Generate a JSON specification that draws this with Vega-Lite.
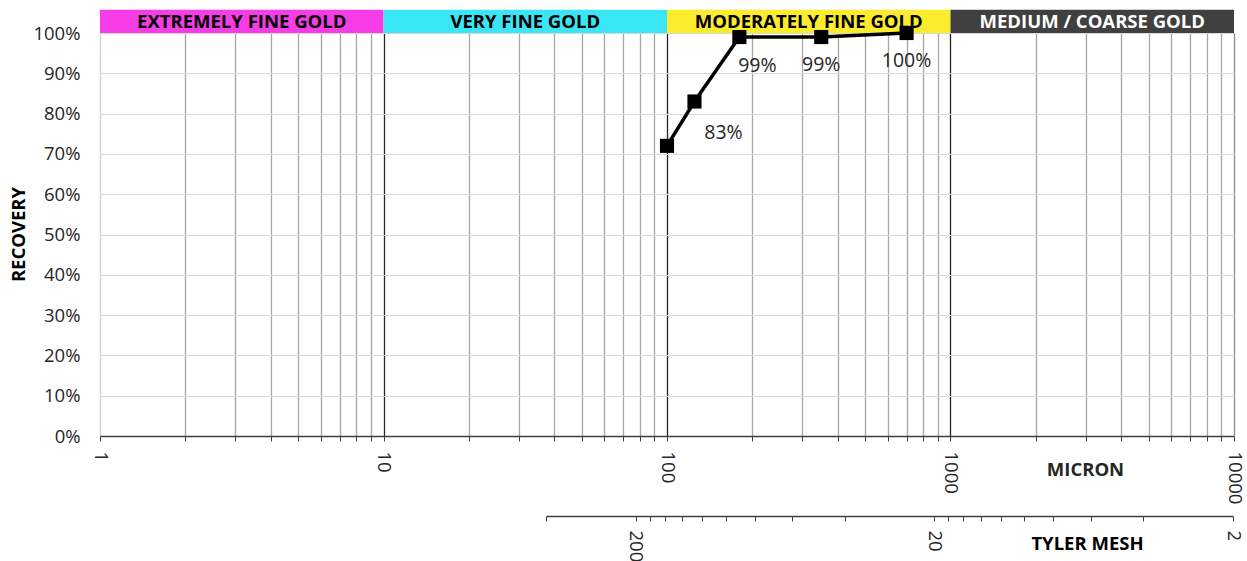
{
  "$schema": "https://vega.github.io/schema/vega-lite/v6.json",
  "width": 1134,
  "height": 403,
  "autosize": {"type": "none"},
  "padding": {"left": 100, "top": 33, "right": 13, "bottom": 125},
  "background": "white",
  "config": {
    "view": {"stroke": null},
    "font": "Open Sans",
    "axis": {"labelFont": "Open Sans", "titleFont": "Open Sans"},
    "text": {"font": "Open Sans"}
  },
  "datasets": {
    "bands": [
      {"cls": "EXTREMELY FINE GOLD", "start": 1, "end": 10},
      {"cls": "VERY FINE GOLD", "start": 10, "end": 100},
      {"cls": "MODERATELY FINE GOLD", "start": 100, "end": 1000},
      {"cls": "MEDIUM / COARSE GOLD", "start": 1000, "end": 10000}
    ],
    "recovery": [
      {"micron": 100, "recovery": 0.72},
      {"micron": 125, "recovery": 0.83},
      {"micron": 180, "recovery": 0.99},
      {"micron": 350, "recovery": 0.99},
      {"micron": 700, "recovery": 1.0}
    ],
    "mesh": [{"mesh": 400}, {"mesh": 2}]
  },
  "layer": [
    {
      "layer": [
        {
          "data": {"name": "bands"},
          "mark": {"type": "rect"},
          "encoding": {
            "x": {"field": "start", "type": "quantitative", "scale": {"type": "log", "domain": [1, 10000], "nice": false}},
            "x2": {"field": "end"},
            "y": {"datum": 1.0, "type": "quantitative"},
            "y2": {"datum": 1.058},
            "color": {
              "field": "cls", "type": "nominal",
              "scale": {
                "domain": ["EXTREMELY FINE GOLD", "VERY FINE GOLD", "MODERATELY FINE GOLD", "MEDIUM / COARSE GOLD"],
                "range": ["#f53ce6", "#3ae5f5", "#fdeb2e", "#404040"]
              },
              "legend": null
            }
          }
        },
        {
          "data": {"name": "bands"},
          "transform": [{"calculate": "sqrt(datum.start * datum.end)", "as": "mid"}],
          "mark": {"type": "text", "fontWeight": "bold", "fontSize": 18.5, "baseline": "middle", "align": "center", "dy": 1},
          "encoding": {
            "x": {"field": "mid", "type": "quantitative", "scale": {"type": "log"}},
            "y": {"datum": 1.029, "type": "quantitative"},
            "text": {"field": "cls"},
            "color": {"condition": {"test": "datum.cls === 'MEDIUM / COARSE GOLD'", "value": "#ffffff"}, "value": "#000000"}
          }
        },
        {
          "data": {"name": "recovery"},
          "mark": {"type": "line", "color": "#000000", "strokeWidth": 3.5},
          "encoding": {
            "x": {
              "field": "micron", "type": "quantitative",
              "scale": {"type": "log", "domain": [1, 10000], "nice": false},
              "axis": {
                "values": [1, 2, 3, 4, 5, 6, 7, 8, 9, 10, 20, 30, 40, 50, 60, 70, 80, 90, 100, 200, 300, 400, 500, 600, 700, 800, 900, 1000, 2000, 3000, 4000, 5000, 6000, 7000, 8000, 9000, 10000],
                "format": "d",
                "labelExpr": "indexof([1,10,100,1000,10000], datum.value) >= 0 ? datum.label : ''",
                "labelOverlap": false,
                "labelAngle": 90,
                "labelAlign": "left",
                "labelBaseline": "middle",
                "labelFontSize": 18.5,
                "labelColor": "#262626",
                "labelPadding": 10,
                "tickSize": 5,
                "tickColor": "#404040",
                "domainColor": "#404040",
                "domainWidth": 1.5,
                "grid": true,
                "gridColor": {"condition": [
                  {"test": "datum.value === 1", "value": "#d0d0d0"},
                  {"test": "datum.value === 10000", "value": "#8c8c8c"},
                  {"test": "indexof([10,100,1000], datum.value) >= 0", "value": "#262626"}
                ], "value": "#a6a6a6"},
                "gridWidth": 1.3,
                "title": "MICRON",
                "titleFontWeight": "bold",
                "titleFontSize": 18.5,
                "titleColor": "#262626",
                "titleX": 985,
                "titleY": 33,
                "titleAlign": "center",
                "titleBaseline": "middle"
              }
            },
            "y": {
              "field": "recovery", "type": "quantitative",
              "scale": {"domain": [0, 1], "nice": false, "zero": true},
              "axis": {
                "values": [0, 0.1, 0.2, 0.3, 0.4, 0.5, 0.6, 0.7, 0.8, 0.9, 1.0],
                "format": ".0%",
                "ticks": false,
                "domain": false,
                "grid": true,
                "gridColor": "#d9d9d9",
                "gridWidth": 1.2,
                "labelFontSize": 18.5,
                "labelColor": "#262626",
                "labelPadding": 20,
                "title": "RECOVERY",
                "titleFontWeight": "bold",
                "titleFontSize": 18.5,
                "titleColor": "#000000",
                "titleX": -82,
                "titleY": 201,
                "titleAngle": -90,
                "titleAlign": "center",
                "titleBaseline": "middle"
              }
            }
          }
        },
        {
          "data": {"name": "recovery"},
          "mark": {"type": "point", "shape": "square", "filled": true, "size": 200, "color": "#000000", "opacity": 1},
          "encoding": {
            "x": {"field": "micron", "type": "quantitative", "scale": {"type": "log"}},
            "y": {"field": "recovery", "type": "quantitative"}
          }
        },
        {
          "data": {"name": "recovery"},
          "transform": [{"filter": "datum.micron === 125"}],
          "mark": {"type": "text", "fontSize": 19.5, "color": "#262626", "dx": 29, "dy": 31, "align": "center", "baseline": "middle"},
          "encoding": {
            "x": {"field": "micron", "type": "quantitative", "scale": {"type": "log"}},
            "y": {"field": "recovery", "type": "quantitative"},
            "text": {"field": "recovery", "type": "quantitative", "format": ".0%"}
          }
        },
        {
          "data": {"name": "recovery"},
          "transform": [{"filter": "datum.micron === 180"}],
          "mark": {"type": "text", "fontSize": 19.5, "color": "#262626", "dx": 18, "dy": 29, "align": "center", "baseline": "middle"},
          "encoding": {
            "x": {"field": "micron", "type": "quantitative", "scale": {"type": "log"}},
            "y": {"field": "recovery", "type": "quantitative"},
            "text": {"field": "recovery", "type": "quantitative", "format": ".0%"}
          }
        },
        {
          "data": {"name": "recovery"},
          "transform": [{"filter": "datum.micron >= 300"}],
          "mark": {"type": "text", "fontSize": 19.5, "color": "#262626", "dx": 0, "dy": 28, "align": "center", "baseline": "middle"},
          "encoding": {
            "x": {"field": "micron", "type": "quantitative", "scale": {"type": "log"}},
            "y": {"field": "recovery", "type": "quantitative"},
            "text": {"field": "recovery", "type": "quantitative", "format": ".0%"}
          }
        }
      ]
    },
    {
      "data": {"name": "mesh"},
      "mark": {"type": "point", "opacity": 0},
      "encoding": {
        "x": {
          "field": "mesh", "type": "quantitative",
          "scale": {"type": "log", "domain": [400, 2], "range": [446, 1133], "nice": false},
          "axis": {
            "orient": "bottom",
            "offset": 80,
            "values": [400, 200, 180, 160, 140, 120, 100, 80, 60, 40, 20, 18, 16, 14, 12, 10, 8, 6, 4, 2],
            "format": "d",
            "labelExpr": "indexof([200,20,2], datum.value) >= 0 ? datum.label : ''",
            "labelOverlap": false,
            "labelAngle": 90,
            "labelAlign": "left",
            "labelBaseline": "middle",
            "labelFontSize": 18.5,
            "labelColor": "#262626",
            "labelPadding": 9,
            "tickSize": 5,
            "tickColor": "#404040",
            "domainColor": "#404040",
            "domainWidth": 1.5,
            "grid": false,
            "title": "TYLER MESH",
            "titleFontWeight": "bold",
            "titleFontSize": 18.5,
            "titleColor": "#000000",
            "titleX": 987,
            "titleY": 27,
            "titleAlign": "center",
            "titleBaseline": "middle"
          }
        },
        "y": {"datum": 0, "type": "quantitative"}
      }
    }
  ],
  "resolve": {"scale": {"x": "independent"}, "axis": {"x": "independent"}}
}
